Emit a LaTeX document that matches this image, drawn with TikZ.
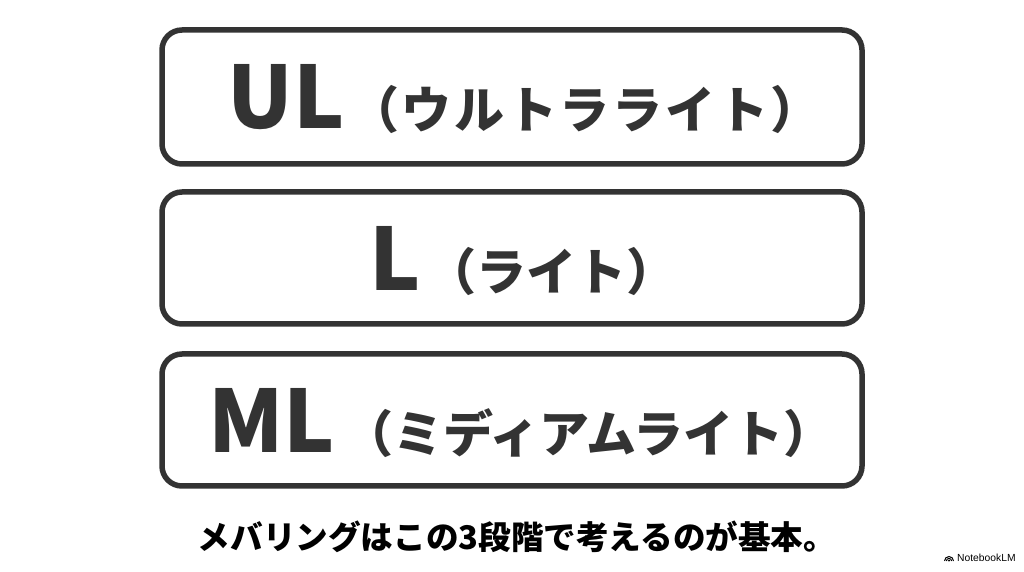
\documentclass[tikz,border=0pt]{standalone}
\usepackage{fontspec}
\newfontfamily\cjk{Noto Sans CJK JP}
\setsansfont{Liberation Sans}
\definecolor{ink}{HTML}{333333}
\newcommand{\bigtxt}{\cjk\bfseries\fontsize{86}{86}\selectfont}
\newcommand{\katatxt}{\cjk\bfseries\fontsize{50}{50}\selectfont}
\begin{document}
\begin{tikzpicture}[x=1pt,y=1pt,
  framebox/.style={draw=ink,line width=5.5pt,rounded corners=20pt,fill=white},
  txt/.style={text=ink,inner sep=0pt,anchor=base}]
\useasboundingbox[fill=white] (0,0) rectangle (1024,572);
% boxes (image y -> 572 - y)
\draw[framebox] (162,542) rectangle (862,408);
\draw[framebox] (162,380) rectangle (862,248);
\draw[framebox] (162,218) rectangle (862,86);
\node[txt] (t1) at (524.5,443) {{\bigtxt UL}\hspace{4pt}{\katatxt\addfontfeatures{LetterSpace=5.5}（ウルトラライト）}};
\node[txt] (t2) at (523,281) {{\bigtxt L}\hspace{5pt}{\katatxt （ライト）}};
\node[txt] (t3) at (521,119) {{\bigtxt ML}\hspace{8pt}{\katatxt （ミディアムライト）}};
\node[inner sep=0pt,anchor=base,text=black] (cap) at (517,22) {\cjk\bfseries\fontsize{32.6}{32.6}\selectfont メバリングはこの3段階で考えるのが基本。};
\node[inner sep=0pt,anchor=base west,text=black] (logo) at (957,10) {\sffamily\fontsize{10.3}{10.3}\selectfont NotebookLM};
\begin{scope}[shift={(949,11)},line width=1pt]
\draw (-4.5,0) arc (180:0:4.5);
\draw (-2.6,0) arc (180:0:2.6);
\draw (-0.8,0) arc (180:0:0.8);
\end{scope}
\end{tikzpicture}
\end{document}
